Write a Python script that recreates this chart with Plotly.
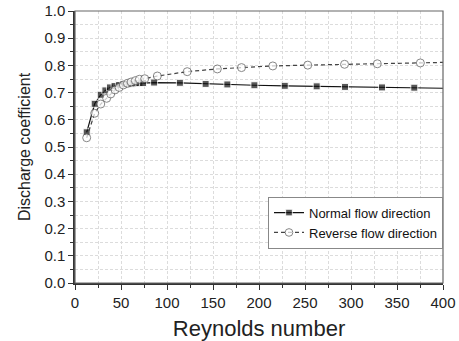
import plotly.graph_objects as go

# Normal flow direction (filled squares)
re_normal = [12.7, 21.4, 28, 33, 38, 43, 48, 52.5, 57, 61, 65.6, 70, 74, 86, 114, 142, 165.6, 195, 228, 262.7, 293.5, 333.7, 368.8, 400]
cd_normal = [0.554, 0.659, 0.692, 0.708, 0.719, 0.724, 0.728, 0.730, 0.732, 0.733, 0.734, 0.735, 0.735, 0.737, 0.736, 0.732, 0.730, 0.727, 0.725, 0.723, 0.721, 0.719, 0.718, 0.716]

# Reverse flow direction (open circles)
re_reverse = [12.7, 21.4, 28, 34.4, 38.8, 43.5, 48, 52.5, 57, 61, 65.6, 70, 75.8, 89.5, 122, 154.7, 181, 215, 253, 293, 328.6, 375.4, 400]
cd_reverse = [0.534, 0.624, 0.658, 0.679, 0.695, 0.710, 0.719, 0.728, 0.734, 0.739, 0.744, 0.749, 0.751, 0.761, 0.777, 0.787, 0.792, 0.798, 0.801, 0.804, 0.806, 0.809, 0.811]

x_ticks = [0, 50, 100, 150, 200, 250, 300, 350, 400]
y_ticks = [0.0, 0.1, 0.2, 0.3, 0.4, 0.5, 0.6, 0.7, 0.8, 0.9, 1.0]

n_size = [7] * (len(re_normal) - 1) + [0]
r_size = [8] * (len(re_reverse) - 1) + [0]

fig = go.Figure()
fig.add_trace(go.Scatter(
    x=re_normal, y=cd_normal, mode="lines+markers", name="Normal flow direction",
    line=dict(color="#111111", width=1.2),
    marker=dict(symbol="square", size=n_size, color="#111111"),
))
fig.add_trace(go.Scatter(
    x=re_reverse, y=cd_reverse, mode="lines+markers", name="Reverse flow direction",
    line=dict(color="#444444", width=1.2, dash="4px,3px"),
    marker=dict(symbol="circle", size=r_size, color="white", line=dict(color="#555555", width=1)),
))

font_family = "Liberation Sans, Arial, sans-serif"
grid_col = "#dcdcdc"
grid_dash = "3px,2px"
fig.update_layout(
    width=459, height=341,
    margin=dict(l=75, r=16, t=11, b=58),
    paper_bgcolor="white", plot_bgcolor="white",
    font=dict(family=font_family, color="#222222"),
    showlegend=True,
    legend=dict(
        x=1, y=0.222, xanchor="right", yanchor="middle",
        bgcolor="white", bordercolor="#888888", borderwidth=1,
        font=dict(size=13, family=font_family, color="#111111"),
        tracegroupgap=0, itemwidth=30,
    ),
)
fig.update_xaxes(
    range=[0, 400], tickvals=x_ticks, ticktext=[str(v) for v in x_ticks],
    automargin=False,
    showline=True, linecolor="#333333", linewidth=1.5, mirror=False,
    ticks="outside", ticklen=5, tickcolor="#333333", tickwidth=1.2,
    tickfont=dict(size=15, color="#222222"),
    showgrid=True, gridcolor=grid_col, griddash=grid_dash, gridwidth=1,
    minor=dict(dtick=25, tick0=0, ticks="outside", ticklen=3, tickcolor="#333333",
               showgrid=True, gridcolor=grid_col, griddash=grid_dash),
    zeroline=False,
    title=dict(text="Reynolds number", font=dict(size=22, color="#222222"), standoff=16),
)
fig.update_yaxes(
    range=[0, 1.0], tickvals=y_ticks, ticktext=[f"{v:.1f}" for v in y_ticks],
    automargin=False,
    showline=True, linecolor="#333333", linewidth=1.5, mirror=False,
    ticks="outside", ticklen=5, tickcolor="#333333", tickwidth=1.2,
    tickfont=dict(size=15, color="#222222"),
    showgrid=True, gridcolor=grid_col, griddash=grid_dash, gridwidth=1,
    minor=dict(dtick=0.05, tick0=0, ticks="outside", ticklen=3, tickcolor="#333333",
               showgrid=True, gridcolor=grid_col, griddash=grid_dash),
    zeroline=False,
    title=dict(text="Discharge coefficient", font=dict(size=16, color="#222222"), standoff=10),
)
# top & right frame in grey
fig.add_shape(type="rect", xref="paper", yref="paper", x0=0, y0=0, x1=1, y1=1,
              line=dict(color="#666666", width=1.2), fillcolor="rgba(0,0,0,0)", layer="above")
fig.write_html("out.html")
